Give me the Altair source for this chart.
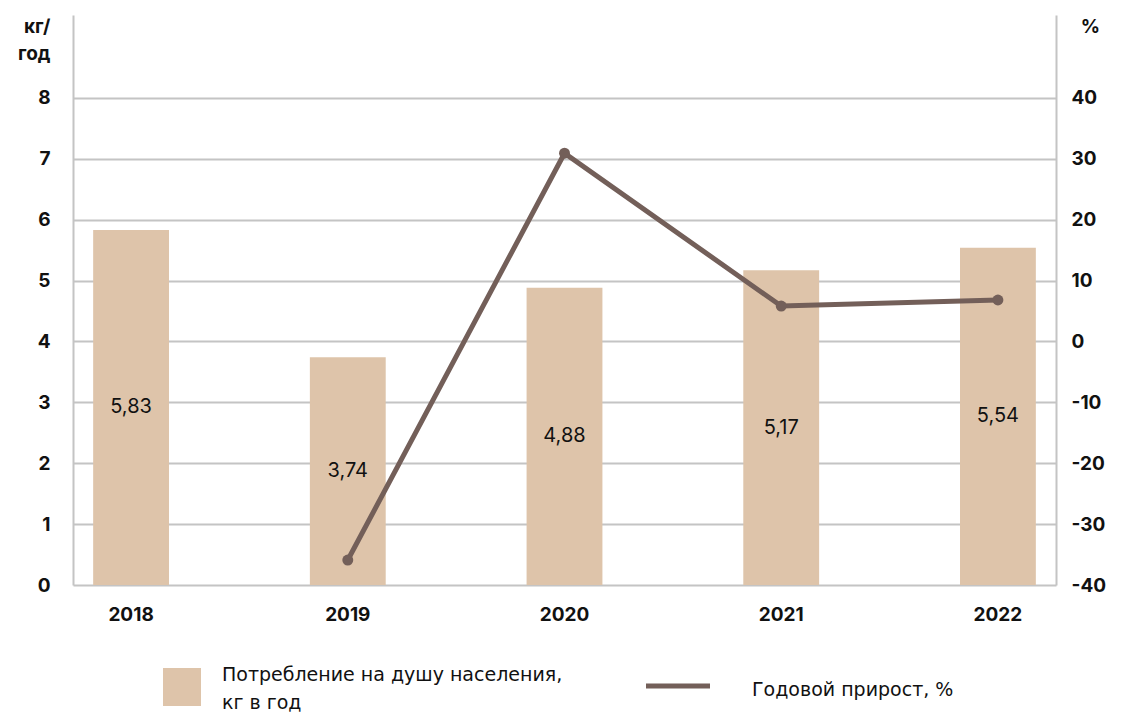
import altair as alt
import pandas as pd

years = ["2018", "2019", "2020", "2021", "2022"]
consumption = [5.83, 3.74, 4.88, 5.17, 5.54]
consumption_labels = ["5,83", "3,74", "4,88", "5,17", "5,54"]
growth = [None, -35.9, 30.9, 5.8, 6.8]

legend_bar = "Потребление на душу населения,"
legend_bar2 = "кг в год"
legend_line = "Годовой прирост, %"

FONT = "Inter"
LFONT = "DejaVu Sans"
BAR_COLOR = "#dec4aa"
LINE_COLOR = "#735f59"
GRID = "#c4c4c4"

df = pd.DataFrame({"year": years, "value": consumption, "label": consumption_labels, "growth": growth})

x = alt.X("year:N", title=None, sort=years,
          scale=alt.Scale(paddingInner=0.65, paddingOuter=0.093),
          axis=alt.Axis(labelAngle=0, labelFont=FONT, labelFontSize=19, labelFontWeight="bold",
                        labelColor="#111", labelPadding=20, ticks=False, domain=False))

yleft = alt.Y("value:Q",
              scale=alt.Scale(domain=[0, 9.36], nice=False, zero=True),
              axis=alt.Axis(values=[0, 1, 2, 3, 4, 5, 6, 7, 8], title=["кг/", "год"],
                            labelExpr="toString(datum.value)",
                            titleAngle=0, titleAlign="right", titleBaseline="alphabetic",
                            titleX=-23, titleY=17, titleFont=FONT, titleFontSize=19,
                            titleFontWeight="bold", titleColor="#111", titleLineHeight=27,
                            labelFont=FONT, labelFontSize=19, labelFontWeight="bold",
                            labelColor="#111", labelPadding=23, ticks=False,
                            domain=True, domainColor=GRID, domainWidth=2,
                            grid=True, gridColor=GRID, gridWidth=2))

bars = alt.Chart(df).mark_bar(color=BAR_COLOR).encode(x=x, y=yleft)

labels = alt.Chart(df).transform_calculate(mid="datum.value / 2").mark_text(
    font=FONT, fontSize=20, color="#111", baseline="middle"
).encode(x=x, y=alt.Y("mid:Q"), text="label:N")

left = alt.layer(bars, labels)

line = alt.Chart(df).transform_filter("isValid(datum.growth)").mark_line(
    color=LINE_COLOR, strokeWidth=5,
    point=alt.OverlayMarkDef(color=LINE_COLOR, size=120, filled=True, opacity=1)
).encode(
    x=x,
    y=alt.Y("growth:Q",
            scale=alt.Scale(domain=[-40, 53.6], nice=False, zero=False),
            axis=alt.Axis(orient="right", values=[-40, -30, -20, -10, 0, 10, 20, 30, 40],
                          labelExpr="toString(datum.value)",
                          title="%", titleAngle=0, titleAlign="center", titleBaseline="alphabetic",
                          titleX=34, titleY=17, titleFont=FONT, titleFontSize=19,
                          titleFontWeight="bold", titleColor="#111",
                          labelFont=FONT, labelFontSize=19, labelFontWeight="bold",
                          labelColor="#111", labelPadding=15, ticks=False,
                          domain=True, domainColor=GRID, domainWidth=2, grid=False))
)

one = pd.DataFrame({"a": [0]})
leg_rect = alt.Chart(one).mark_rect(color=BAR_COLOR).encode(
    x=alt.value(90), x2=alt.value(128), y=alt.value(653), y2=alt.value(691))
leg_t1 = alt.Chart(one).mark_text(font=LFONT, fontSize=19, color="#111", align="left", baseline="middle").encode(
    x=alt.value(149), y=alt.value(660), text=alt.value(legend_bar))
leg_t2 = alt.Chart(one).mark_text(font=LFONT, fontSize=19, color="#111", align="left", baseline="middle").encode(
    x=alt.value(149), y=alt.value(688), text=alt.value(legend_bar2))
leg_line = alt.Chart(one).mark_rule(color=LINE_COLOR, strokeWidth=5).encode(
    x=alt.value(573), x2=alt.value(637), y=alt.value(671))
leg_t3 = alt.Chart(one).mark_text(font=LFONT, fontSize=19, color="#111", align="left", baseline="middle").encode(
    x=alt.value(679), y=alt.value(675), text=alt.value(legend_line))

chart = alt.layer(left, line, leg_rect, leg_t1, leg_t2, leg_line, leg_t3).resolve_scale(
    y="independent"
).properties(
    width=983, height=570,
    autosize=alt.AutoSizeParams(type="none"),
    padding={"left": 65, "top": 7, "right": 57, "bottom": 128},
).configure_view(stroke=None)

chart.save("out.html", embed_options={"renderer": "svg", "actions": False})
